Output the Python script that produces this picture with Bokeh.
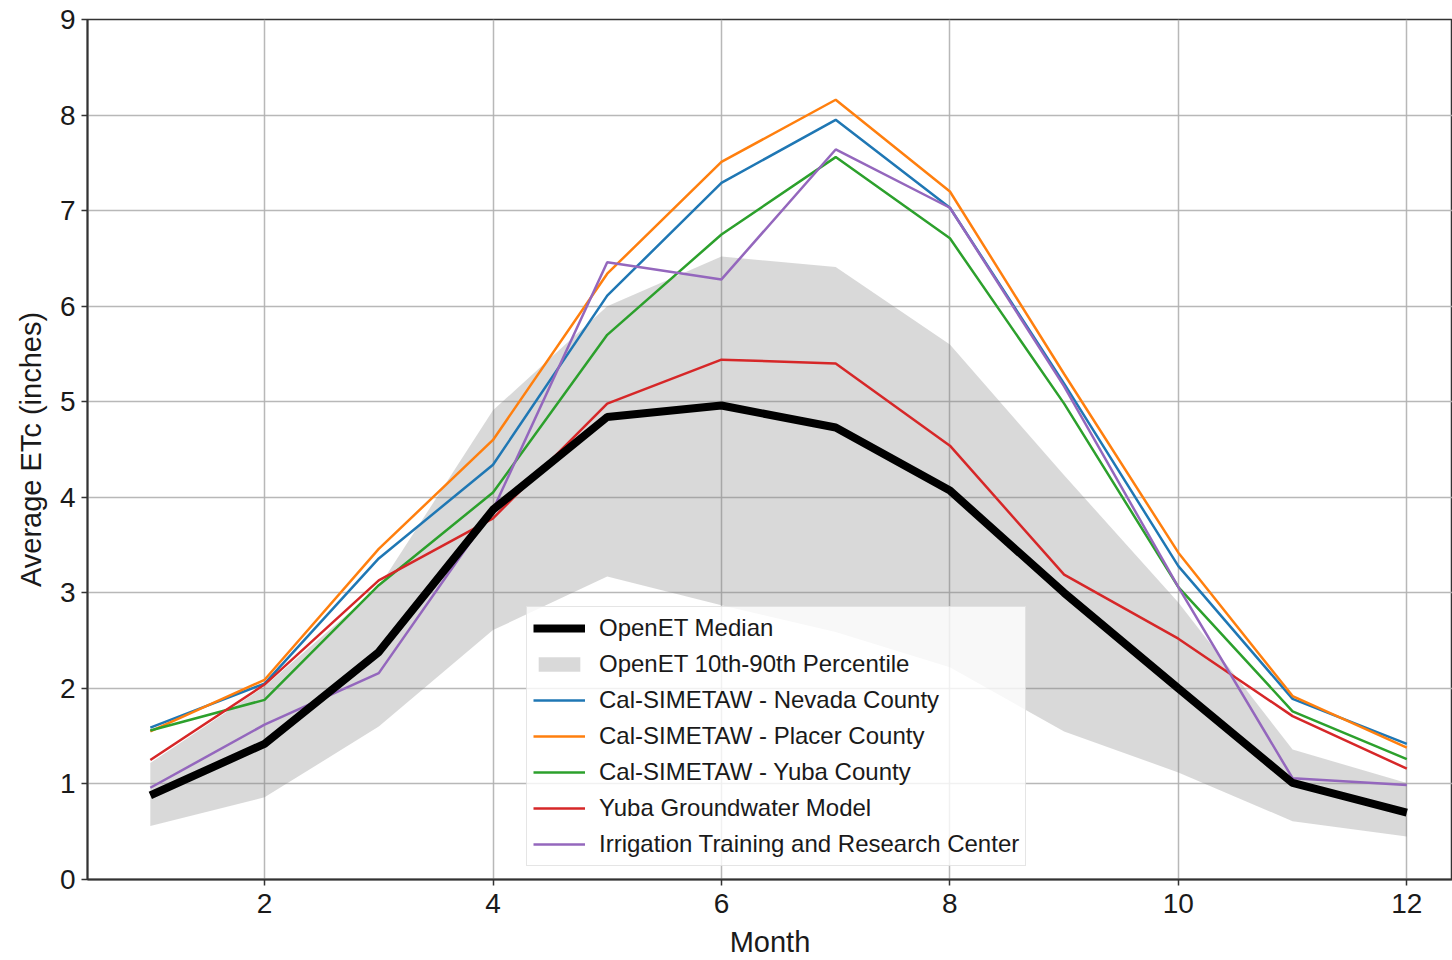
from bokeh.plotting import figure
from bokeh.models import Range1d, FixedTicker, Legend, LegendItem, ColumnDataSource
from bokeh.embed import file_html
from bokeh.resources import INLINE

months = [1, 2, 3, 4, 5, 6, 7, 8, 9, 10, 11, 12]
openet_median = [0.88, 1.42, 2.38, 3.87, 4.84, 4.96, 4.73, 4.07, 3.00, 2.00, 1.01, 0.70]
openet_p10 = [0.56, 0.86, 1.60, 2.61, 3.17, 2.87, 2.59, 2.22, 1.55, 1.12, 0.61, 0.45]
openet_p90 = [1.22, 2.02, 3.06, 4.91, 6.00, 6.52, 6.41, 5.60, 4.23, 2.90, 1.36, 1.01]
cal_nevada = [1.59, 2.05, 3.36, 4.34, 6.11, 7.29, 7.95, 7.03, 5.19, 3.28, 1.89, 1.42]
cal_placer = [1.55, 2.09, 3.46, 4.60, 6.34, 7.51, 8.16, 7.20, 5.29, 3.42, 1.92, 1.38]
cal_yuba = [1.56, 1.88, 3.08, 4.05, 5.70, 6.75, 7.56, 6.71, 4.98, 3.06, 1.76, 1.26]
yuba_gw = [1.25, 2.04, 3.13, 3.78, 4.98, 5.44, 5.40, 4.54, 3.19, 2.52, 1.71, 1.16]
itrc = [0.96, 1.62, 2.16, 3.87, 6.46, 6.28, 7.64, 7.03, 5.16, 3.06, 1.06, 0.99]

x_ticks = [2, 4, 6, 8, 10, 12]
y_ticks = [0, 1, 2, 3, 4, 5, 6, 7, 8, 9]

src = ColumnDataSource(dict(
    m=months, med=openet_median, lo=openet_p10, hi=openet_p90,
    nev=cal_nevada, pla=cal_placer, yub=cal_yuba, gw=yuba_gw, itrc=itrc,
))

FONT = "Liberation Sans"
p = figure(width=1452, height=960, output_backend="svg", toolbar_location=None,
           x_range=Range1d(0.45, 12.40), y_range=Range1d(0, 9),
           min_border_left=87, min_border_right=0, min_border_top=19, min_border_bottom=80)
p.background_fill_color = "white"
p.border_fill_color = "white"
p.outline_line_color = "#333333"
p.outline_line_width = 1.5

band = p.varea(x="m", y1="lo", y2="hi", source=src, fill_color="gray", fill_alpha=0.3)
med = p.line("m", "med", source=src, line_color="black", line_width=8)
l1 = p.line("m", "nev", source=src, line_color="#1f77b4", line_width=2.5)
l2 = p.line("m", "pla", source=src, line_color="#ff7f0e", line_width=2.5)
l3 = p.line("m", "yub", source=src, line_color="#2ca02c", line_width=2.5)
l4 = p.line("m", "gw", source=src, line_color="#d62728", line_width=2.5)
l5 = p.line("m", "itrc", source=src, line_color="#9467bd", line_width=2.5)

p.renderers = [band, l1, l2, l3, l4, l5, med]

for ax in (p.xaxis[0], p.yaxis[0]):
    ax.major_label_text_font = FONT
    ax.major_label_text_font_size = "28px"
    ax.major_label_text_color = "#1a1a1a"
    ax.axis_label_text_font = FONT
    ax.axis_label_text_font_size = "29px"
    ax.axis_label_text_font_style = "normal"
    ax.axis_label_text_color = "#1a1a1a"
    ax.axis_line_color = "#333333"
    ax.axis_line_width = 2
    ax.major_tick_line_color = "#333333"
    ax.major_tick_line_width = 1.5
    ax.major_tick_out = 6
    ax.major_tick_in = 0
    ax.minor_tick_line_color = None

p.xaxis[0].ticker = FixedTicker(ticks=x_ticks)
p.yaxis[0].ticker = FixedTicker(ticks=y_ticks)
p.xaxis[0].axis_label = "Month"
p.yaxis[0].axis_label = "Average ETc (inches)"
p.xaxis[0].major_label_standoff = 8
p.yaxis[0].major_label_standoff = 6
p.xaxis[0].axis_label_standoff = 10
p.yaxis[0].axis_label_standoff = 10

for g in (p.xgrid[0], p.ygrid[0]):
    g.grid_line_color = "#b0b0b0"
    g.grid_line_width = 1.5
    g.grid_line_alpha = 0.9
p.xgrid[0].ticker = FixedTicker(ticks=x_ticks)
p.ygrid[0].ticker = FixedTicker(ticks=y_ticks)

legend = Legend(items=[
    LegendItem(label="OpenET Median", renderers=[med]),
    LegendItem(label="OpenET 10th-90th Percentile", renderers=[band]),
    LegendItem(label="Cal-SIMETAW - Nevada County", renderers=[l1]),
    LegendItem(label="Cal-SIMETAW - Placer County", renderers=[l2]),
    LegendItem(label="Cal-SIMETAW - Yuba County", renderers=[l3]),
    LegendItem(label="Yuba Groundwater Model", renderers=[l4]),
    LegendItem(label="Irrigation Training and Research Center", renderers=[l5]),
], location=(439, 13))
legend.label_text_font = FONT
legend.label_text_font_size = "24px"
legend.label_text_color = "#1a1a1a"
legend.glyph_width = 52
legend.glyph_height = 18
legend.label_height = 30
legend.label_standoff = 14
legend.spacing = 6
legend.padding = 6
legend.margin = 0
legend.background_fill_color = "white"
legend.background_fill_alpha = 0.8
legend.border_line_color = "#cccccc"
legend.border_line_width = 1
p.add_layout(legend, "center")

open("out.html", "w").write(file_html(p, INLINE))
